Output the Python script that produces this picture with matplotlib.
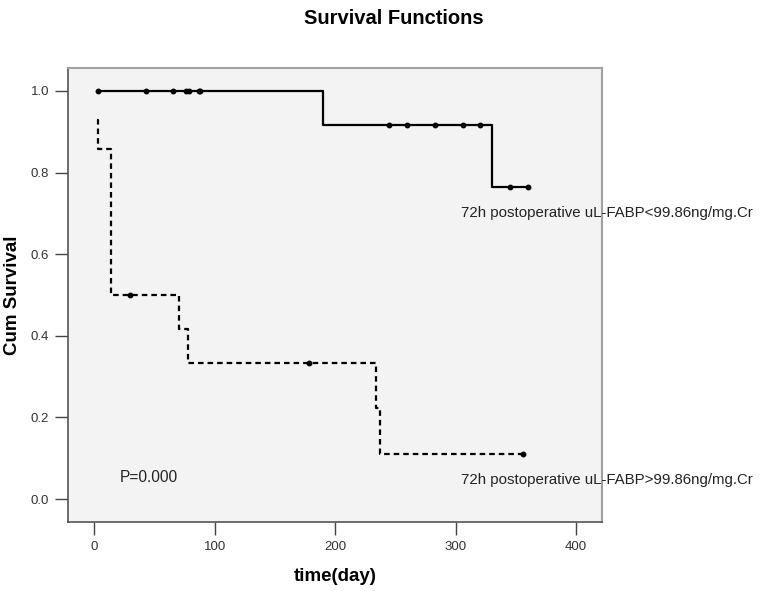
import matplotlib
matplotlib.use("Agg")
import matplotlib.pyplot as plt

plt.rcParams["font.family"] = ["Liberation Sans", "DejaVu Sans"]

# low uL-FABP group (solid line)
low_times = [3, 190, 330, 360]
low_surv = [1.0, 0.917, 0.764, 0.764]
low_cens_t = [3, 43, 65, 76, 79, 87, 88, 245, 260, 283, 306, 320, 345, 360]
low_cens_s = [1.0, 1.0, 1.0, 1.0, 1.0, 1.0, 1.0,
              0.917, 0.917, 0.917, 0.917, 0.917, 0.764, 0.764]

# high uL-FABP group (dashed line)
high_times = [2, 3, 14, 70, 78, 234, 237, 356]
high_surv = [0.929, 0.857, 0.5, 0.417, 0.333, 0.222, 0.111, 0.111]
high_cens_t = [30, 178, 356]
high_cens_s = [0.5, 0.333, 0.111]

label_low = "72h postoperative uL-FABP<99.86ng/mg.Cr"
label_high = "72h postoperative uL-FABP>99.86ng/mg.Cr"
p_text = "P=0.000"

xticks = [0, 100, 200, 300, 400]
yticks = [0.0, 0.2, 0.4, 0.6, 0.8, 1.0]

fig = plt.figure(figsize=(7.63, 5.91), dpi=100)
ax = fig.add_axes([0.0891, 0.1168, 0.700, 0.768])
ax.set_facecolor("#f3f3f3")

ax.step(low_times, low_surv, where="post", color="black", lw=1.6)
ax.plot(low_cens_t, low_cens_s, "o", color="black", ms=3.2, ls="none")

ax.step(high_times, high_surv, where="post", color="black", lw=1.6,
        ls=(0, (2.5, 1.8)))
ax.plot(high_cens_t, high_cens_s, "o", color="black", ms=3.2, ls="none")

ax.set_xlim(-21.8, 421.6)
ax.set_ylim(-0.056, 1.056)
ax.set_xticks(xticks)
ax.set_yticks(yticks)
ax.set_yticklabels([f"{v:.1f}" for v in yticks])
ax.tick_params(direction="out", length=9.5, width=1.0, color="#444444",
               labelsize=9.5, labelcolor="#333333", pad=4)

for side in ["left", "bottom"]:
    ax.spines[side].set_color("#555555")
    ax.spines[side].set_linewidth(1.2)
for side in ["top", "right"]:
    ax.spines[side].set_color("#a0a0a0")
    ax.spines[side].set_linewidth(1.5)

ax.text(304.6, 0.701, label_low, fontsize=10.8, va="center", ha="left",
        color="#222222", clip_on=False)
ax.text(304.6, 0.047, label_high, fontsize=10.8, va="center", ha="left",
        color="#222222", clip_on=False)
ax.text(21.4, 0.052, p_text, fontsize=11.2, va="center", ha="left",
        color="#222222")

ax.set_xlabel("time(day)", fontsize=13.5, fontweight="bold", labelpad=11)
ax.set_ylabel("Cum Survival", fontsize=13.5, fontweight="bold", labelpad=7)
fig.text(0.516, 0.985, "Survival Functions", fontsize=14.5, fontweight="bold",
         ha="center", va="top")

fig.savefig("out.png", dpi=100)
